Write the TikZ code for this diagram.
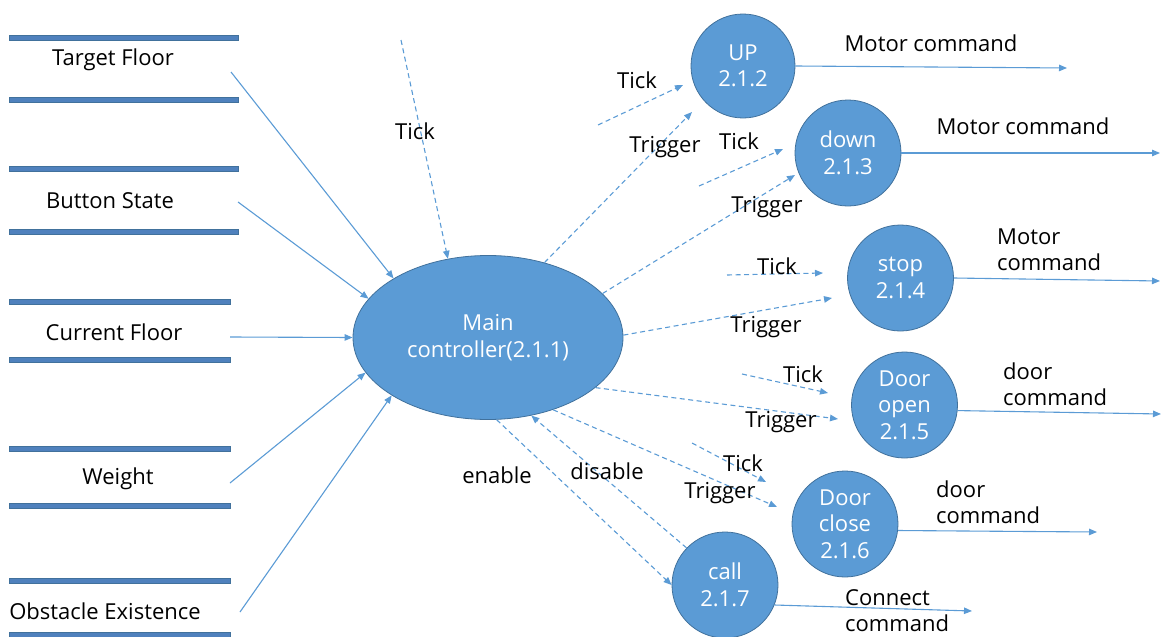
\documentclass[tikz,border=0pt]{standalone}
\usepackage{fontspec}
\setmainfont{Open Sans}
\usetikzlibrary{shapes.geometric,arrows.meta}
\definecolor{procfill}{HTML}{5B9BD5}
\definecolor{procedge}{HTML}{41719C}
\definecolor{flow}{HTML}{5B9BD5}
\definecolor{storeband}{HTML}{4F81BD}

\begin{document}
\begin{tikzpicture}[x=1pt,y=-1pt,
  font=\fontsize{22}{26.5}\selectfont,
  process/.style={circle, fill=procfill, draw=procedge, line width=0.8pt,
    minimum size=106pt, inner sep=0pt, align=center, text=white},
  mainproc/.style={ellipse, fill=procfill, draw=procedge, line width=0.8pt,
    minimum width=270pt, minimum height=164pt, inner sep=0pt, align=center, text=white},
  storeedge/.style={fill=storeband, draw=procedge, line width=0.6pt},
  lbl/.style={inner sep=0pt, text=black},
  mlbl/.style={inner sep=0pt, align=left, anchor=west, text=black},
  flowline/.style={draw=flow, line width=1.1pt, -{Triangle[length=8pt,width=6.5pt]}},
  ctrl/.style={flowline, dash pattern=on 5pt off 3.5pt},
]
\useasboundingbox (0,0) rectangle (1162,637);

% ---- data stores ----
\path[storeedge] (9,35) rectangle (238,40);
\path[storeedge] (9,97) rectangle (238,102);
\node[lbl] (sTarget) at (113,60) {Target Floor};
\path[storeedge] (9,166) rectangle (238,171);
\path[storeedge] (9,229) rectangle (238,234);
\node[lbl] (sButton) at (110,201) {Button State};
\path[storeedge] (9,299) rectangle (230,304);
\path[storeedge] (9,357) rectangle (230,362);
\node[lbl] (sCurrent) at (114,332) {Current Floor};
\path[storeedge] (9,446) rectangle (230,451);
\path[storeedge] (9,503) rectangle (230,508);
\node[lbl] (sWeight) at (118,479) {Weight};
\path[storeedge] (9,578) rectangle (230,583);
\path[storeedge] (9,632) rectangle (230,637);
\node[lbl] (sObstacle) at (105,611) {Obstacle Existence};

% ---- processes ----
\node[mainproc] (main) at (488,337.5) {Main\\controller(2.1.1)};
\node[process, minimum size=104pt] (up) at (743,66) {UP\\2.1.2};
\node[process] (down) at (848,153) {down\\2.1.3};
\node[process] (stop) at (900.5,278) {stop\\2.1.4};
\node[process] (dopen) at (904.5,405) {Door\\open\\2.1.5};
\node[process] (dclose) at (845,524) {Door\\close\\2.1.6};
\node[process] (call) at (725,585) {call\\2.1.7};

% ---- free connector ends ----
\coordinate (inTarget) at (231,72);
\coordinate (inButton) at (238,202);
\coordinate (inCurrent) at (230,337);
\coordinate (inWeight) at (230,483);
\coordinate (inObstacle) at (240,612);
\coordinate (tickMain) at (401,40);
\coordinate (tickUp) at (598,125);
\coordinate (tickUpEnd) at (683,85);
\coordinate (trigUpEnd) at (692,112);
\coordinate (tickDown) at (699,186);
\coordinate (tickDownEnd) at (783,149);
\coordinate (trigDownEnd) at (795,175);
\coordinate (tickStop) at (727,275);
\coordinate (tickStopEnd) at (823,273);
\coordinate (trigStopEnd) at (832,298);
\coordinate (tickOpen) at (742,374);
\coordinate (tickOpenEnd) at (828,393);
\coordinate (trigOpenEnd) at (838,419);
\coordinate (tickClose) at (692,443);
\coordinate (tickCloseEnd) at (766,482);
\coordinate (trigCloseEnd) at (777,507);
\coordinate (outUp) at (1067,68);
\coordinate (outDown) at (1160,153);
\coordinate (outStop) at (1160,281);
\coordinate (outOpen) at (1161,414);
\coordinate (outClose) at (1097,532);
\coordinate (outCall) at (972,611);

% ---- data flows into the main controller ----
\draw[flowline] (inTarget) -- (main.148);
\draw[flowline] (inButton) -- (main.162);
\draw[flowline] (inCurrent) -- (main.180);
\draw[flowline] (inWeight) -- (main.196);
\draw[flowline] (inObstacle) -- (main.211);

% ---- control flows ----
\draw[ctrl] (tickMain) -- (main.117);
\draw[ctrl] (tickUp) -- (tickUpEnd);
\draw[ctrl] (main.53) -- (trigUpEnd);
\draw[ctrl] (tickDown) -- (tickDownEnd);
\draw[ctrl] (main.21) -- (trigDownEnd);
\draw[ctrl] (tickStop) -- (tickStopEnd);
\draw[ctrl] (main.1) -- (trigStopEnd);
\draw[ctrl] (tickOpen) -- (tickOpenEnd);
\draw[ctrl] (main.-25) -- (trigOpenEnd);
\draw[ctrl] (tickClose) -- (tickCloseEnd);
\draw[ctrl] (main.-48) -- (trigCloseEnd);
\draw[ctrl] (main.-84) -- (call.west);
\draw[ctrl] (call.136) -- (main.-61);

% ---- output flows ----
\draw[flowline] (up.east) -- (outUp);
\draw[flowline] (down.east) -- (outDown);
\draw[flowline] (stop.east) -- (outStop);
\draw[flowline] (dopen.-6) -- (outOpen);
\draw[flowline] (dclose.-7) -- (outClose);
\draw[flowline] (call.-22) -- (outCall);

% ---- flow labels ----
\node[lbl] (lTickMain) at (415,131) {Tick};
\node[lbl] (lTickUp) at (637,80) {Tick};
\node[lbl] (lTrigUp) at (665,147) {Trigger};
\node[lbl] (lTickDown) at (739,141) {Tick};
\node[lbl] (lTrigDown) at (767,207) {Trigger};
\node[lbl] (lTickStop) at (777,266) {Tick};
\node[lbl] (lTrigStop) at (766,327) {Trigger};
\node[lbl] (lTickOpen) at (803,374) {Tick};
\node[lbl] (lTrigOpen) at (781,422) {Trigger};
\node[lbl] (lTickClose) at (743,463) {Tick};
\node[lbl] (lTrigClose) at (720,493) {Trigger};
\node[lbl] (lEnable) at (497,475) {enable};
\node[lbl] (lDisable) at (607,471) {disable};
\node[lbl] (lOutUp) at (931,43) {Motor command};
\node[lbl] (lOutDown) at (1023,126) {Motor command};
\node[mlbl] (lOutStop) at (997,250) {Motor\\command};
\node[mlbl] (lOutOpen) at (1003,384) {door\\command};
\node[mlbl] (lOutClose) at (936,502) {door\\command};
\node[mlbl] (lOutCall) at (845,610.5) {Connect\\command};
\end{tikzpicture}
\end{document}
